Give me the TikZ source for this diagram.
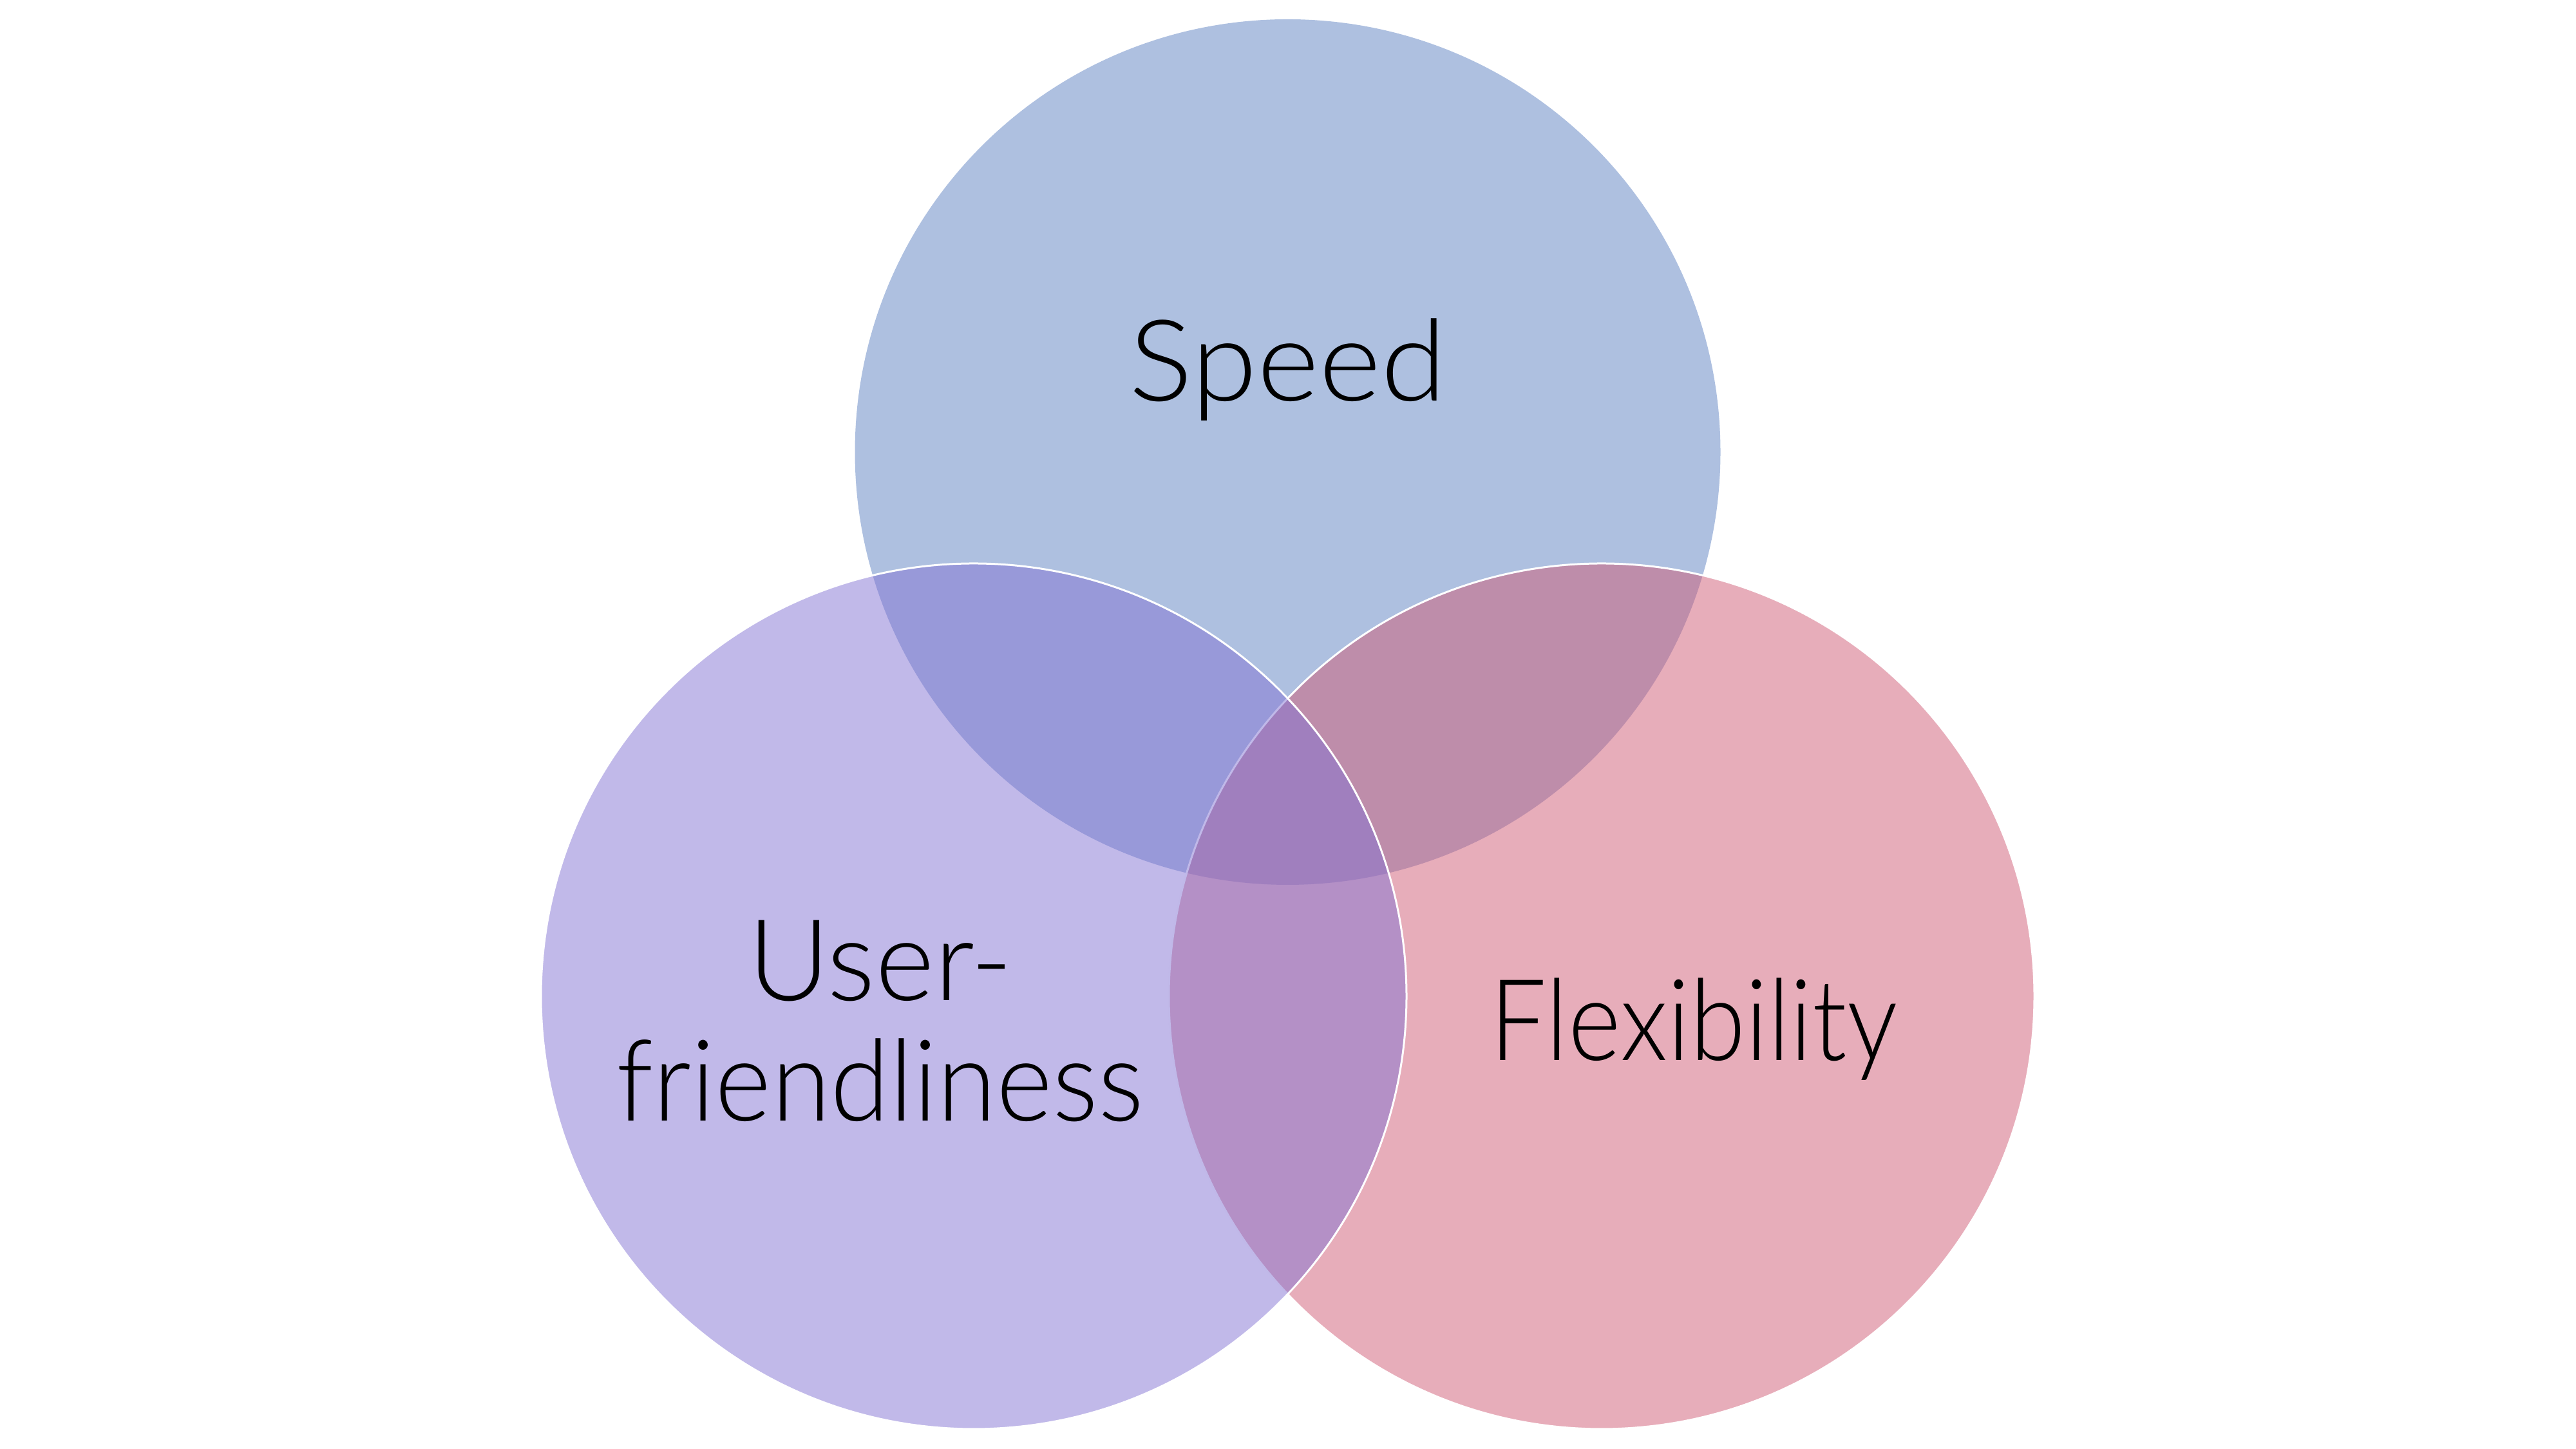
\documentclass[tikz,border=0pt]{standalone}
\usepackage{fontspec}
\usepackage{graphicx}
\setmainfont{Lato Light}
\definecolor{speedcol}{RGB}{174,192,224}
\definecolor{usercol}{RGB}{131,115,211}
\definecolor{flexcol}{RGB}{207,91,117}
\tikzset{
  venn/.style={circle, inner sep=0pt, minimum size=13.44cm},
  label/.style={font=\fontsize{50}{53.2}\selectfont, text=black, align=center, inner sep=0pt},
}
\begin{document}
\begin{tikzpicture}
\useasboundingbox (0,0) rectangle (40,22.5);
\node[venn, fill=speedcol] (speed) at (19.995,15.48) {};
\node[venn, fill=flexcol, fill opacity=0.5, draw=white, draw opacity=1, line width=0.03cm] (flex) at (24.87,7.03) {};
\node[venn, fill=usercol, fill opacity=0.5, draw=white, draw opacity=1, line width=0.03cm] (user) at (15.12,7.03) {};
\node[label, anchor=base] (speedtxt) at (20.0,16.27) {\scalebox{1.05}[1]{Speed}};
\node[label, anchor=base] (flextxt) at (26.30,6.03) {\scalebox{0.89}[1]{Flexibility}};
\node[label, anchor=center] (usertxt) at (13.67,6.64) {User-\\\scalebox{0.95}[1]{friendliness}};
\end{tikzpicture}
\end{document}
